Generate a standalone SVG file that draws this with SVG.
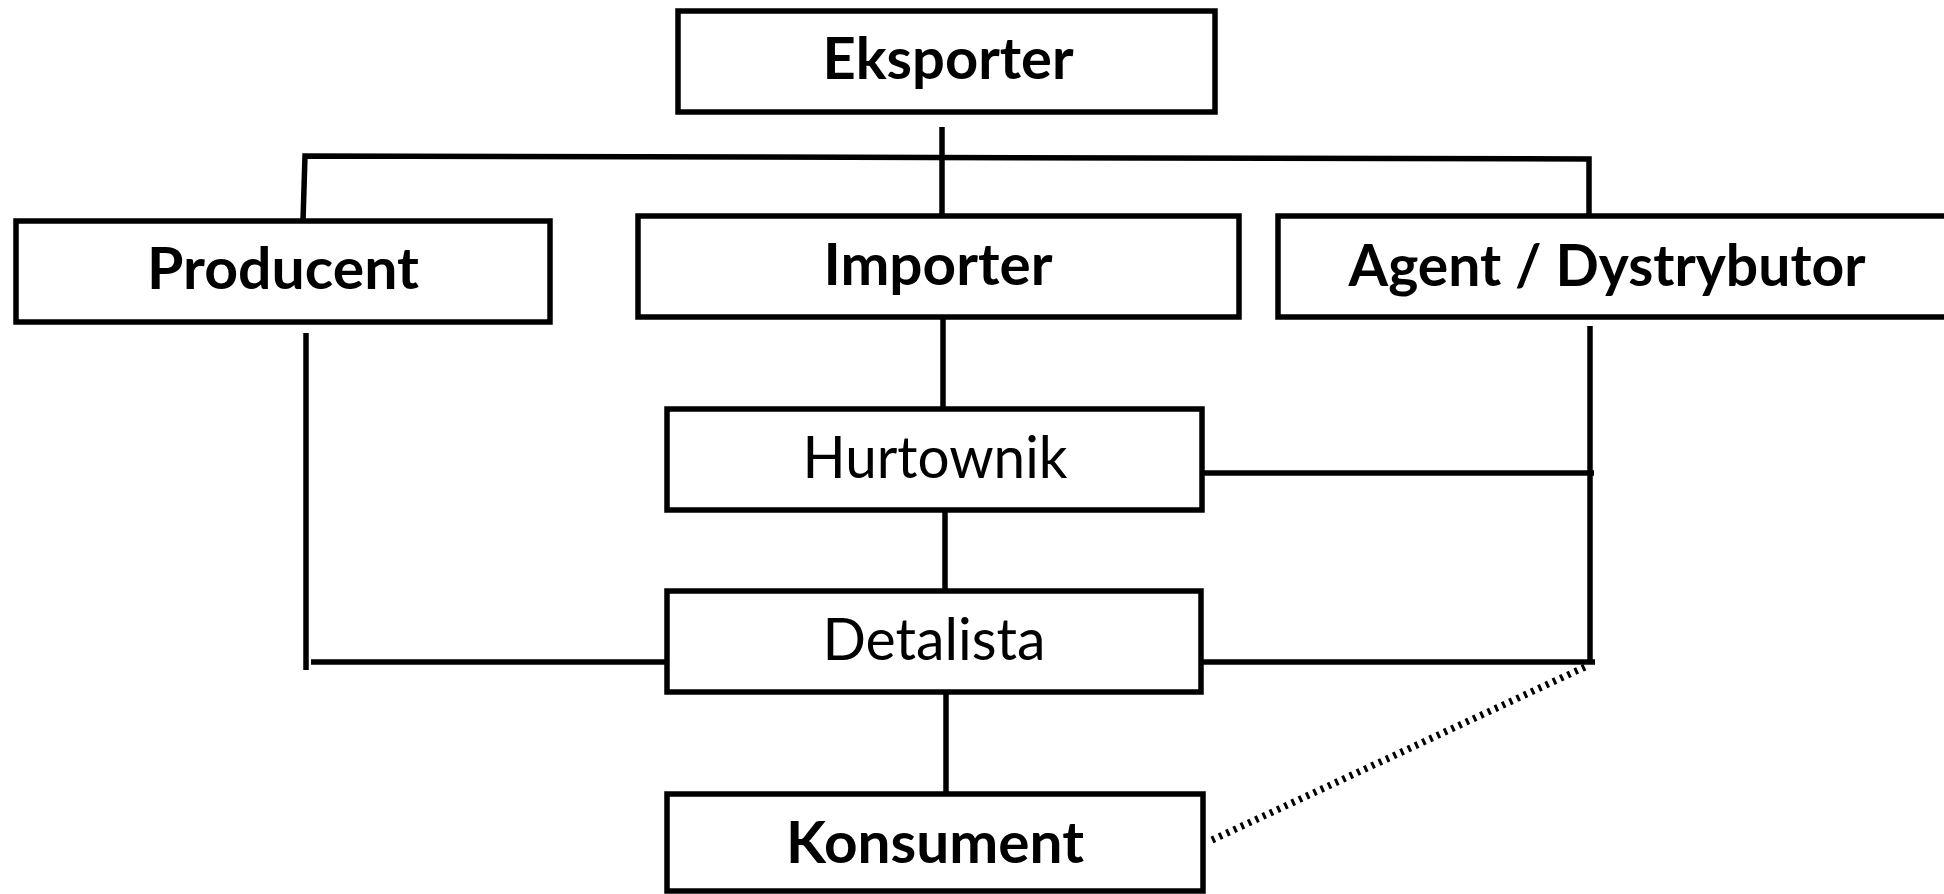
<svg xmlns="http://www.w3.org/2000/svg" width="1944" height="894" viewBox="0 0 1944 894">
  <style>
    .box { fill: #ffffff; stroke: #000000; stroke-width: 5.5; }
    .lbl { font-family: Lato, "Open Sans", "Liberation Sans", sans-serif; font-size: 58px; fill: #000000; text-anchor: middle; }
    .b { font-weight: bold; }
    .ln { fill: none; stroke: #000000; stroke-width: 5.5; }
    .dot { fill: none; stroke: #000000; stroke-width: 7; stroke-dasharray: 3 5; }
  </style>
  <rect width="1944" height="894" fill="#ffffff"/>

  <!-- connectors -->
  <g id="connectors">
    <line class="ln" x1="942" y1="127" x2="942" y2="216"/>
    <polyline class="ln" points="303,221 305,156 1589,159 1589,216"/>
    <line class="ln" x1="943" y1="317" x2="943" y2="408"/>
    <line class="ln" x1="945" y1="510" x2="945" y2="590"/>
    <line class="ln" x1="946" y1="692" x2="946" y2="793"/>
    <line class="ln" x1="306" y1="333" x2="306" y2="670"/>
    <line class="ln" x1="311" y1="662" x2="666" y2="662"/>
    <line class="ln" x1="1590" y1="326" x2="1590" y2="664"/>
    <line class="ln" x1="1204" y1="473" x2="1594" y2="473"/>
    <line class="ln" x1="1201" y1="662" x2="1595" y2="662"/>
    <line class="dot" x1="1212" y1="840" x2="1585" y2="667"/>
  </g>

  <g id="eksporter">
    <rect class="box" x="678" y="11" width="537" height="101"/>
    <text class="lbl b" x="948" y="79" textLength="251" lengthAdjust="spacingAndGlyphs">Eksporter</text>
  </g>

  <g id="producent">
    <rect class="box" x="16" y="221" width="534" height="101"/>
    <text class="lbl b" x="283" y="289" textLength="272" lengthAdjust="spacingAndGlyphs">Producent</text>
  </g>

  <g id="importer">
    <rect class="box" x="638" y="216" width="601" height="101"/>
    <text class="lbl b" x="938" y="285" textLength="229" lengthAdjust="spacingAndGlyphs">Importer</text>
  </g>

  <g id="agent-dystrybutor">
    <rect class="box" x="1278" y="216" width="680" height="101"/>
    <text class="lbl b" x="1607" y="286" textLength="517" lengthAdjust="spacingAndGlyphs">Agent / Dystrybutor</text>
  </g>

  <g id="hurtownik">
    <rect class="box" x="667" y="409" width="535" height="101"/>
    <text class="lbl" x="935" y="478" textLength="265" lengthAdjust="spacingAndGlyphs">Hurtownik</text>
  </g>

  <g id="detalista">
    <rect class="box" x="667" y="591" width="534" height="101"/>
    <text class="lbl" x="934" y="660" textLength="223" lengthAdjust="spacingAndGlyphs">Detalista</text>
  </g>

  <g id="konsument">
    <rect class="box" x="667" y="794" width="536" height="97"/>
    <text class="lbl b" x="935" y="863" textLength="298" lengthAdjust="spacingAndGlyphs">Konsument</text>
  </g>
</svg>
